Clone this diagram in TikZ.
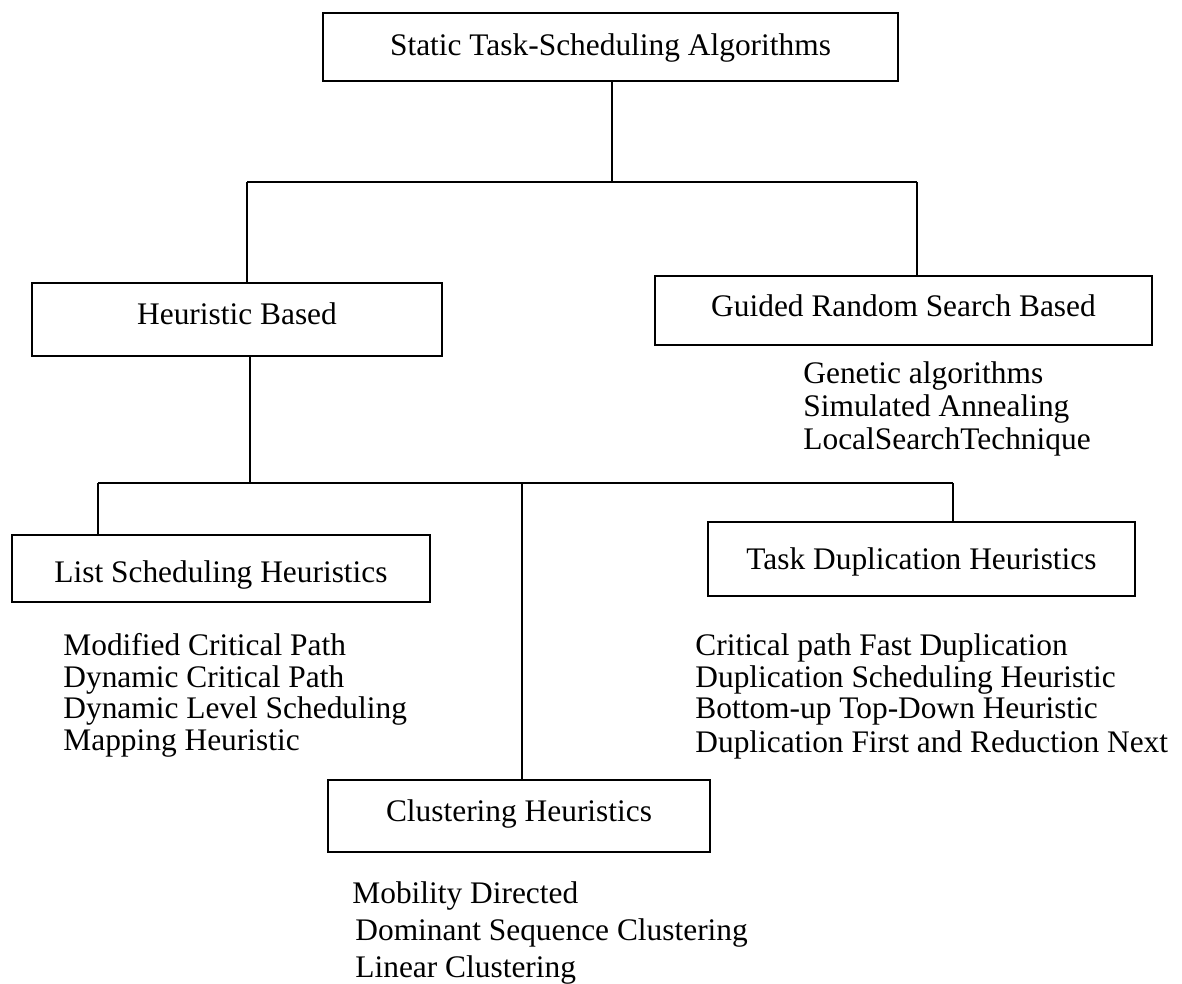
\documentclass[tikz,border=0pt]{standalone}
\usepackage{fontspec}
\setmainfont{Liberation Serif}
\begin{document}
\begin{tikzpicture}[x=0.5pt,y=-0.5pt,
  txt/.style={font=\fontsize{15.7pt}{16.25pt}\selectfont},
  box/.style={txt,draw,line width=1pt,inner sep=0pt,text depth=0pt},
  item/.style={txt,anchor=base west,inner sep=0pt},
  conn/.style={line width=1pt}]
\useasboundingbox (0,0) rectangle (1182,984);
% boxes
\node[box,minimum width=287.5pt,minimum height=34pt,text height=8.4pt] (top) at (610.5,47) {Static Task-Scheduling Algorithms};
\node[box,minimum width=205pt,minimum height=36.5pt,text height=5.4pt] (heur) at (237,319.5) {Heuristic Based};
\node[box,minimum width=248.5pt,minimum height=34.5pt,text height=6.4pt] (guided) at (903.5,310.5) {Guided Random Search Based};
\node[box,minimum width=209pt,minimum height=33.5pt,text height=14.4pt] (list) at (221,568.5) {List Scheduling Heuristics};
\node[box,minimum width=213.5pt,minimum height=37pt,text height=10.4pt] (task) at (921.5,559) {Task Duplication Heuristics};
\node[box,minimum width=191pt,minimum height=36pt,text height=5.4pt] (clus) at (519,816) {Clustering Heuristics};
% junctions
\coordinate (j0) at (612,182);
\coordinate (jl) at (247,182);
\coordinate (jr) at (917,182);
\coordinate (k0) at (250,483);
\coordinate (kl) at (98,483);
\coordinate (km) at (522,483);
\coordinate (kr) at (953,483);
% connectors
\draw[conn] (j0 |- top.south) -- (j0);
\draw[conn] (jl) -- (jr);
\draw[conn] (jl) -- (jl |- heur.north);
\draw[conn] (jr) -- (jr |- guided.north);
\draw[conn] (k0 |- heur.south) -- (k0);
\draw[conn] (kl) -- (kr);
\draw[conn] (kl) -- (kl |- list.north);
\draw[conn] (km) -- (km |- clus.north);
\draw[conn] (kr) -- (kr |- task.north);
% lists
\node[item] (g1) at (803,383) {Genetic algorithms};
\node[item] (g2) at (803,416) {Simulated Annealing};
\node[item] (g3) at (803,449) {LocalSearchTechnique};
\node[item] (l1) at (63,655) {Modified Critical Path};
\node[item] (l2) at (63,687) {Dynamic Critical Path};
\node[item] (l3) at (63,718) {Dynamic Level Scheduling};
\node[item] (l4) at (63,750) {Mapping Heuristic};
\node[item] (t1) at (695,655) {Critical path Fast Duplication};
\node[item] (t2) at (695,687) {Duplication Scheduling Heuristic};
\node[item] (t3) at (695,718) {Bottom-up Top-Down Heuristic};
\node[item] (t4) at (695,752) {Duplication First and Reduction Next};
\node[item] (c1) at (352,903) {Mobility Directed};
\node[item] (c2) at (355,940) {Dominant Sequence Clustering};
\node[item] (c3) at (355,977) {Linear Clustering};
\end{tikzpicture}
\end{document}
